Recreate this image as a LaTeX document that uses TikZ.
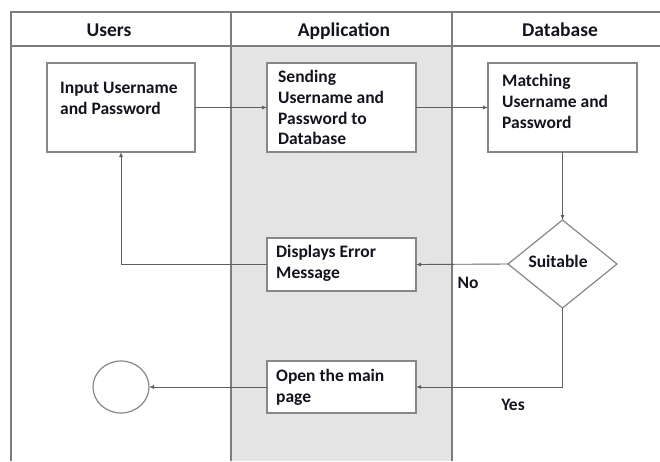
\documentclass[tikz,border=0pt]{standalone}
\usepackage{fontspec}
\setmainfont{Carlito}
\usetikzlibrary{arrows.meta,shapes.geometric}
\definecolor{laneline}{RGB}{125,125,125}
\definecolor{boxline}{RGB}{135,135,135}
\definecolor{conn}{RGB}{95,95,95}
\definecolor{lanefill}{RGB}{228,228,228}
\definecolor{ink}{RGB}{20,20,30}
\tikzset{
  lane/.style={draw=laneline, line width=1.3pt},
  box/.style={draw=boxline, line width=1.2pt, fill=white, rectangle, inner sep=0pt, outer sep=0pt},
  decision/.style={draw=boxline, line width=1.2pt, fill=white, diamond, inner sep=0pt, outer sep=0pt},
  endpoint/.style={draw=boxline, line width=1.2pt, fill=white, ellipse, inner sep=0pt, outer sep=0pt},
  txt/.style={text=ink, font=\bfseries\fontsize{17.5}{20.7}\selectfont, inner sep=0pt, anchor=base west},
  head/.style={text=ink, font=\bfseries\fontsize{19.5}{23}\selectfont, inner sep=0pt, anchor=base},
  flow/.style={draw=conn, line width=0.9pt, -{Latex[length=5pt,width=4pt]}},
}
\newcommand{\mlines}[1]{\begin{tabular}[t]{@{}l@{}}#1\end{tabular}}
\begin{document}
\begin{tikzpicture}[x=1pt,y=-1pt]
\useasboundingbox (0,0) rectangle (660,461);
% swimlanes
\fill[lanefill] (231,46) rectangle (452,461);
\draw[lane] (11,461) -- (11,12) -- (660,12);
\draw[lane] (11,46) -- (660,46);
\draw[lane] (231,12) -- (231,461);
\draw[lane] (452,12) -- (452,461);
\node[head] (hU) at (109,36.8) {Users};
\node[head] (hA) at (344,36.3) {Application};
\node[head] (hD) at (560,36.8) {Database};
% boxes
\node[box, minimum width=148, minimum height=89] (b1) at (121,107.5) {};
\node[box, minimum width=149, minimum height=89] (b2) at (341.5,107.5) {};
\node[box, minimum width=149, minimum height=89] (b3) at (562.5,107.5) {};
\node[decision, minimum width=109, minimum height=88] (dia) at (562.5,264) {};
\node[box, minimum width=149, minimum height=53] (err) at (341.5,264.5) {};
\node[box, minimum width=149, minimum height=52] (opn) at (341.5,387) {};
\node[endpoint, minimum width=56, minimum height=52] (circ) at (121,387) {};
% texts
\node[txt] (t1) at (60,93.6) {\mlines{Input Username\\and Password}};
\node[txt] (t2) at (278,82.6) {\mlines{Sending\\Username and\\Password to\\Database}};
\node[txt] (t3) at (502,86.6) {\mlines{Matching\\Username and\\Password}};
\node[txt] (t4) at (276,257.6) {\mlines{Displays Error\\Message}};
\node[txt] (t5) at (276,381.6) {\mlines{Open the main\\page}};
\node[txt, anchor=base] (t6) at (558,267.6) {Suitable};
\node[txt, anchor=base] (lNo) at (468,288.6) {No};
\node[txt, anchor=base] (lYes) at (513,410.6) {Yes};
% connectors
\draw[flow] (b1) -- (b2);
\draw[flow] (b2) -- (b3);
\draw[flow] (b3) -- (dia);
\draw[flow] (dia.west) -- (err.east);
\draw[flow] (err.west) -| (b1.south);
\draw[flow] (dia.south) |- (opn.east);
\draw[flow] (opn.west) -- (circ.east);
\end{tikzpicture}
\end{document}
